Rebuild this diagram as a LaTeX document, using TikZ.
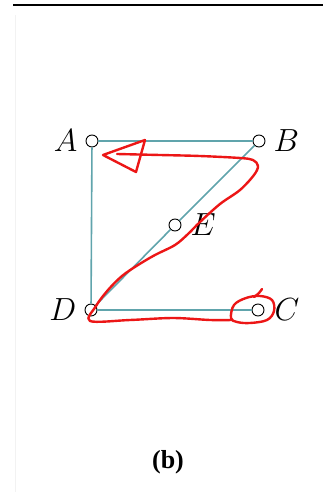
\RequirePackage{fix-cm}
\documentclass[tikz,border=0pt]{standalone}
\usepackage{fontspec}
\newfontfamily\capfont{Liberation Serif}
\definecolor{linecol}{RGB}{96,164,172}
\definecolor{inkred}{RGB}{236,22,22}

\begin{document}
\begin{tikzpicture}[x=1pt,y=-1pt,
  pt/.style={circle,draw,fill=white,line width=0.9pt,inner sep=0pt,minimum size=12pt},
  lbl/.style={font=\fontsize{32}{32}\selectfont,inner sep=0pt,label distance=8pt},
  edge/.style={draw=linecol,line width=1.6pt},
  pen/.style={draw=inkred,line width=2.4pt,line cap=round,line join=round}]
  \useasboundingbox (0,0) rectangle (323,498);
  % edge of the scanned page
  \draw[line width=2pt] (13,5) -- (323,5);
  \draw[gray!10,line width=1pt] (15,15) -- (15,492);
  % the five points
  \node[pt,label={[lbl]left:$A$}] (A) at (92,141) {};
  \node[pt,label={[lbl]right:$B$}] (B) at (259,141) {};
  \node[pt,label={[lbl,label distance=9pt]right:$E$}] (E) at (175,225) {};
  \node[pt,label={[lbl]left:$D$}] (D) at (91,310) {};
  \node[pt,label={[lbl,label distance=10pt]right:$C$}] (C) at (258,310) {};
  \draw[edge] (A) -- (B);
  \draw[edge] (A) -- (D);
  \draw[edge] (D) -- (C);
  \draw[edge] (D) -- (E) -- (B);
  % red pen: arrow head, then the Z down to C
  \draw[pen] (145,140) -- (103,155) -- (136,172) -- cycle;
  \draw[pen] plot[smooth,tension=0.55] coordinates {(117,154) (160,155) (200,156) (240,158)
    (253,160) (258,166) (254,175) (240,190) (220,204) (200,222) (188,234) (175,245)
    (155,255) (138,265) (122,276) (108,290) (96,306) (90,321) (130,320) (173,318)
    (210,320) (232,320)};
  \draw[pen] plot[smooth cycle,tension=0.6] coordinates {(231,318) (234,305) (246,298)
    (260,296) (272,300) (274,311) (267,320) (250,323) (237,322)};
  \draw[pen] plot[smooth,tension=0.6] coordinates {(254,297) (259,293) (262,289)};
  \node[font=\capfont\bfseries\fontsize{26}{26}\selectfont] (cap) at (168,462) {(b)};
\end{tikzpicture}
\end{document}
